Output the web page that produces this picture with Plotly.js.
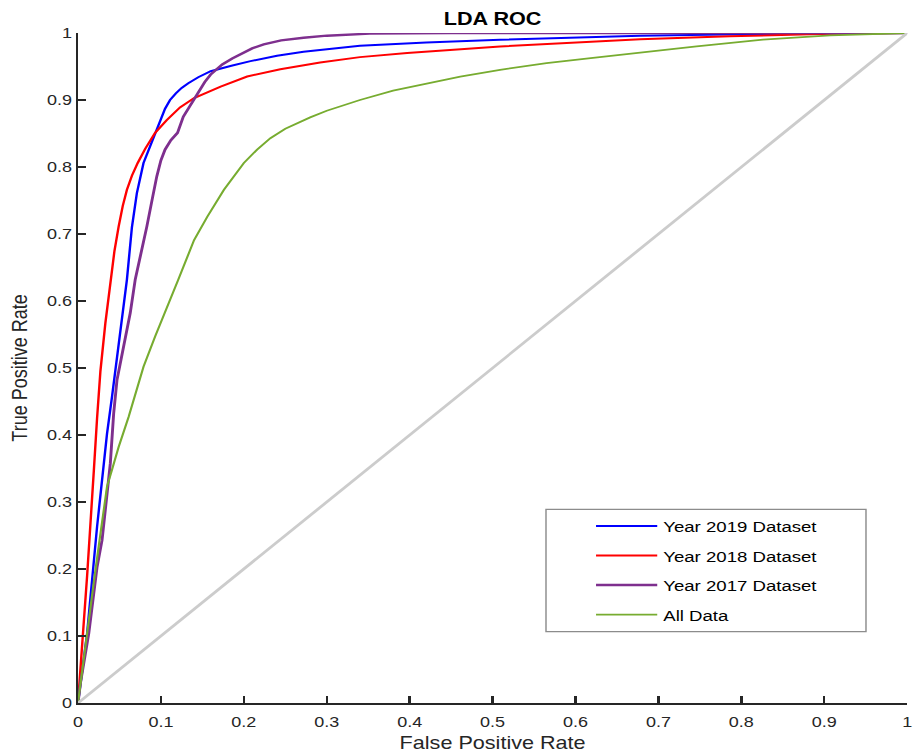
<!DOCTYPE html>
<html>
<head>
<meta charset="utf-8">
<script src="https://cdn.plot.ly/plotly-3.0.1.min.js"></script>
<style>
  html, body { margin: 0; padding: 0; background: #ffffff; overflow: hidden; }
  #plot { width: 761px; height: 756px; transform: scaleX(1.2); transform-origin: 0 0; }
</style>
</head>
<body>
<div id="plot"></div>
<script>
// ---- data ----
const seriesNames = ["Year 2019 Dataset", "Year 2018 Dataset", "Year 2017 Dataset", "All Data"];

const fpr2019 = [0, 0.004, 0.011, 0.023, 0.029, 0.035, 0.041, 0.047, 0.053, 0.059, 0.065, 0.071, 0.079, 0.087, 0.093, 0.099, 0.105, 0.111, 0.118, 0.125, 0.133, 0.145, 0.160, 0.185, 0.208, 0.240, 0.272, 0.340, 0.420, 0.509, 0.600, 0.678, 0.800, 0.900, 1];
const tpr2019 = [0, 0.040, 0.104, 0.263, 0.333, 0.402, 0.457, 0.517, 0.582, 0.632, 0.710, 0.761, 0.806, 0.831, 0.850, 0.870, 0.887, 0.900, 0.910, 0.918, 0.925, 0.934, 0.943, 0.951, 0.958, 0.966, 0.972, 0.981, 0.986, 0.990, 0.993, 0.996, 0.998, 0.999, 1];

const fpr2018 = [0, 0.002, 0.006, 0.011, 0.015, 0.019, 0.023, 0.027, 0.033, 0.039, 0.044, 0.049, 0.054, 0.059, 0.065, 0.072, 0.081, 0.093, 0.107, 0.123, 0.140, 0.172, 0.204, 0.244, 0.292, 0.340, 0.397, 0.509, 0.600, 0.678, 0.786, 0.907, 1];
const tpr2018 = [0, 0.040, 0.104, 0.190, 0.260, 0.345, 0.425, 0.495, 0.567, 0.632, 0.675, 0.711, 0.742, 0.766, 0.787, 0.806, 0.827, 0.851, 0.870, 0.889, 0.903, 0.920, 0.935, 0.946, 0.956, 0.964, 0.970, 0.980, 0.986, 0.9905, 0.995, 0.999, 1];

const fpr2017 = [0, 0.003, 0.013, 0.023, 0.029, 0.033, 0.039, 0.043, 0.047, 0.055, 0.063, 0.069, 0.076, 0.083, 0.090, 0.095, 0.100, 0.105, 0.112, 0.120, 0.127, 0.132, 0.138, 0.146, 0.153, 0.160, 0.174, 0.186, 0.198, 0.210, 0.224, 0.245, 0.272, 0.300, 0.352, 0.450, 1];
const tpr2017 = [0, 0.030, 0.104, 0.203, 0.243, 0.293, 0.358, 0.432, 0.482, 0.532, 0.582, 0.632, 0.670, 0.711, 0.755, 0.786, 0.810, 0.826, 0.840, 0.851, 0.875, 0.885, 0.898, 0.915, 0.927, 0.938, 0.953, 0.962, 0.970, 0.977, 0.983, 0.989, 0.993, 0.996, 0.999, 1.0, 1];

const fprAll = [0, 0.005, 0.011, 0.019, 0.026, 0.031, 0.035, 0.041, 0.049, 0.061, 0.071, 0.079, 0.093, 0.105, 0.121, 0.140, 0.156, 0.176, 0.200, 0.216, 0.232, 0.250, 0.265, 0.280, 0.300, 0.340, 0.380, 0.421, 0.461, 0.509, 0.565, 0.621, 0.678, 0.746, 0.826, 0.907, 1];
const tprAll = [0, 0.050, 0.104, 0.180, 0.243, 0.288, 0.323, 0.348, 0.382, 0.427, 0.467, 0.502, 0.547, 0.582, 0.632, 0.691, 0.726, 0.766, 0.806, 0.826, 0.843, 0.857, 0.866, 0.874, 0.884, 0.900, 0.914, 0.925, 0.935, 0.945, 0.955, 0.963, 0.971, 0.980, 0.990, 0.9965, 1];

const chanceX = [0, 1];
const chanceY = [0, 1];

const tickVals = [0, 0.1, 0.2, 0.3, 0.4, 0.5, 0.6, 0.7, 0.8, 0.9, 1];
const tickText = ["0", "0.1", "0.2", "0.3", "0.4", "0.5", "0.6", "0.7", "0.8", "0.9", "1"];

// ---- chart ----
const FONT = "Liberation Sans, Arial, Helvetica, sans-serif";
const AXC = "#262626";

const traces = [
  { x: fpr2019, y: tpr2019, mode: "lines", name: seriesNames[0], legendgroup: "g1", line: { color: "#0000ff", width: 2 } },
  { x: fpr2018, y: tpr2018, mode: "lines", name: seriesNames[1], legendgroup: "g2", line: { color: "#ff0000", width: 2 } },
  { x: fpr2017, y: tpr2017, mode: "lines", name: seriesNames[2], legendgroup: "g3", line: { color: "#7e2f8e", width: 2.4 } },
  { x: fprAll, y: tprAll, mode: "lines", name: seriesNames[3], legendgroup: "g4", line: { color: "#77ac30", width: 1.8 } },
  { x: chanceX, y: chanceY, mode: "lines", line: { color: "#cccccc", width: 2.6 }, showlegend: false, hoverinfo: "skip" }
];

const axisCommon = {
  range: [0, 1],
  tickvals: tickVals,
  ticktext: tickText,
  showgrid: false,
  zeroline: false,
  showline: true,
  linecolor: AXC,
  linewidth: 2,
  ticks: "inside",
  ticklen: 7,
  tickwidth: 2,
  tickcolor: AXC,
  tickfont: { family: FONT, size: 15, color: AXC },
  fixedrange: true
};

const layout = {
  width: 761,
  height: 756,
  margin: { l: 65, r: 5, t: 33, b: 53 },
  paper_bgcolor: "#ffffff",
  plot_bgcolor: "#ffffff",
  font: { family: FONT, color: AXC },
  title: {
    text: "LDA ROC",
    font: { family: FONT, size: 18, color: "#000000", weight: "bold" },
    x: 0.5, xref: "paper", xanchor: "center",
    y: 0.975, yref: "container", yanchor: "middle"
  },
  xaxis: Object.assign({}, axisCommon, {
    ticklabelstandoff: 4,
    title: { text: "False Positive Rate", font: { family: FONT, size: 18, color: AXC }, standoff: 7 }
  }),
  yaxis: Object.assign({}, axisCommon, {
    title: { text: "True Positive Rate", font: { family: FONT, size: 18, color: AXC }, standoff: 11.5 }
  }),
  shapes: [{
    type: "rect", xref: "paper", yref: "paper",
    x0: 0.5644, x1: 0.9503, y0: 0.1064, y1: 0.2891,
    line: { color: "#8c8c8c", width: 1.2 }, fillcolor: "#ffffff", layer: "below"
  }],
  showlegend: true,
  legend: {
    x: 0.6175, xanchor: "left",
    y: 0.289, yanchor: "top",
    bgcolor: "rgba(0,0,0,0)",
    borderwidth: 0,
    itemwidth: 51,
    tracegroupgap: 6.4,
    traceorder: "grouped",
    font: { family: FONT, size: 15.5, color: "#000000" }
  }
};

Plotly.newPlot("plot", traces, layout, { displayModeBar: false, staticPlot: true });
</script>
</body>
</html>
